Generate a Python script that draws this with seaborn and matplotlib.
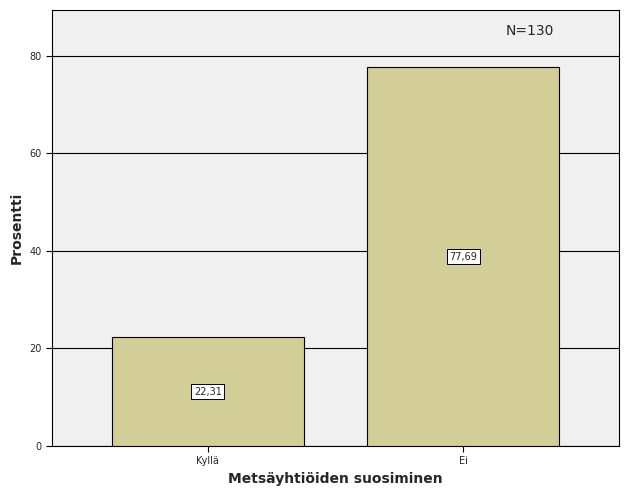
import matplotlib
matplotlib.use("Agg")
import matplotlib.pyplot as plt
import seaborn as sns
import pandas as pd

categories = ["Kyllä", "Ei"]
percents = [22.31, 77.69]
value_labels = ["22,31", "77,69"]

df = pd.DataFrame({"cat": categories, "pct": percents})
sns.set_style("white")
plt.rcParams['font.family'] = ['DejaVu Sans']
fig = plt.figure(figsize=(6.26, 5.01), dpi=100)
ax = fig.add_axes([52/626, (501-446)/501, 567/626, 436/501])
ax.set_facecolor("#f0f0f0")
sns.barplot(data=df, x="cat", y="pct", ax=ax, color="#d3ce97", edgecolor="black",
            linewidth=0.8, width=0.75, saturation=1, zorder=3)
ax.set_xlim(-0.61, 1.61)
ax.set_ylim(0, 89.4)
ax.set_yticks([0, 20, 40, 60, 80])
ax.yaxis.grid(True, color="black", linewidth=0.8, zorder=0)
ax.set_axisbelow(True)
ax.tick_params(axis="both", labelsize=7, length=4, left=True, bottom=True, color="black")
for s in ax.spines.values():
    s.set_color("black"); s.set_linewidth(0.8)
for i, (v, lab) in enumerate(zip(percents, value_labels)):
    ax.text(i, v / 2, lab, ha="center", va="center", fontsize=7, zorder=5,
            bbox=dict(boxstyle="square,pad=0.25", fc="white", ec="black", lw=0.7))
ax.text(1.26, 85, "N=130", ha="center", va="center", fontsize=10)
ax.set_xlabel("Metsäyhtiöiden suosiminen", fontsize=10, fontweight="bold")
ax.set_ylabel("Prosentti", fontsize=10, fontweight="bold")
fig.savefig("out.png", dpi=100)
